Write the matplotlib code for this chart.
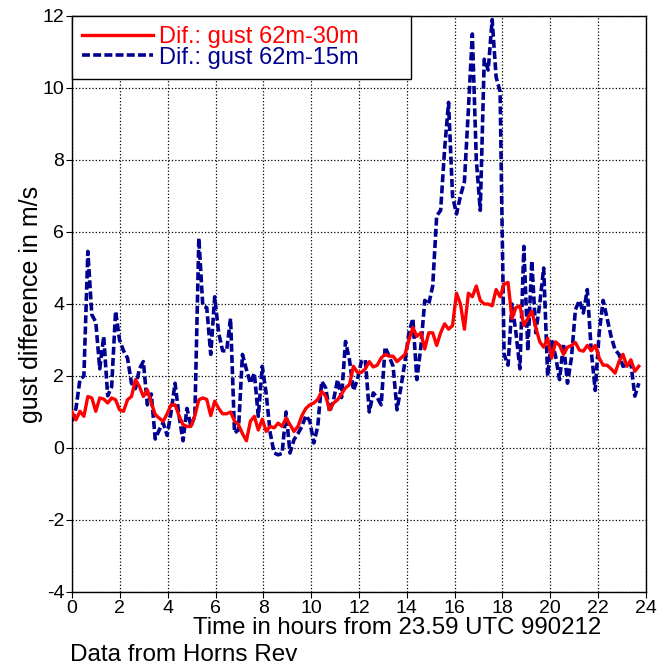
import numpy as np
import matplotlib
matplotlib.use("Agg")
import matplotlib.pyplot as plt

plt.rcParams["font.family"] = ["Liberation Sans", "DejaVu Sans"]
plt.rcParams["axes.unicode_minus"] = False

# gust differences, 10-minute samples starting at 0 h
red = [
    1.0, 0.78, 1.02, 0.88, 1.43, 1.39, 1.02, 1.39, 1.36, 1.25, 1.39, 1.34,
    1.06, 1.02, 1.34, 1.43, 1.9, 1.71, 1.43, 1.62, 1.25, 0.93, 0.83, 0.74,
    0.95, 1.2, 1.2, 0.9, 0.65, 0.6, 0.6, 0.9, 1.34, 1.39, 1.35, 0.9,
    1.3, 1.1, 0.95, 0.95, 1.0, 0.75, 0.65, 0.4, 0.2, 0.74, 0.88, 0.5,
    0.8, 0.46, 0.6, 0.56, 0.69, 0.6, 0.83, 0.65, 0.46, 0.6, 0.9, 1.1,
    1.2, 1.25, 1.35, 1.57, 1.44, 1.06, 1.25, 1.34, 1.5, 1.67, 1.76, 2.27,
    2.1, 2.1, 2.2, 2.4, 2.25, 2.3, 2.5, 2.6, 2.55, 2.55, 2.4, 2.5,
    2.6, 3.0, 3.35, 3.1, 3.2, 2.75, 3.2, 3.2, 2.85, 3.2, 3.45, 3.3,
    3.4, 4.3, 4.0, 3.3, 4.3, 4.2, 4.5, 4.1, 4.0, 4.0, 3.95, 4.4,
    4.2, 4.55, 4.6, 3.6, 3.9, 3.95, 3.4, 3.6, 3.8, 3.35, 2.95, 2.8,
    3.05, 2.5, 2.95, 2.85, 2.6, 2.8, 2.85, 2.93, 2.72, 2.69, 2.85, 2.7,
    2.85, 2.5, 2.3, 2.3, 2.2, 2.08, 2.4, 2.6, 2.27, 2.45, 2.13, 2.27,
]
blue = [
    0.74, 1.1, 1.9, 2.0, 5.46, 3.7, 3.5, 2.2, 3.1, 1.45, 1.7, 3.8,
    3.0, 2.7, 2.5, 1.8, 1.65, 2.2, 2.4, 1.2, 1.5, 0.25, 0.5, 0.7,
    0.35, 1.0, 1.8, 0.9, 0.2, 1.1, 0.6, 0.9, 5.83, 3.94, 3.9, 2.6,
    4.2, 3.2, 2.7, 2.7, 3.6, 0.42, 0.5, 2.6, 2.18, 1.8, 2.08, 0.88,
    2.27, 1.5, 0.42, -0.14, -0.19, -0.15, 1.0, -0.14, 0.23, 0.4, 0.6, 0.9,
    0.75, 0.14, 0.6, 1.85, 1.67, 1.0, 1.34, 1.9, 1.4, 2.96, 2.45, 1.6,
    1.9, 2.4, 2.45, 1.0, 1.53, 1.4, 1.2, 2.8, 2.55, 2.27, 1.06, 1.7,
    2.4, 3.2, 3.6, 1.9, 2.8, 4.1, 4.0, 4.5, 6.45, 6.6, 8.3, 9.6,
    7.0, 6.5, 7.0, 7.4, 9.4, 11.5, 8.0, 6.6, 10.8, 10.5, 11.9, 10.3,
    9.9, 2.6, 2.3, 4.0, 3.2, 2.2, 5.6, 2.7, 5.2, 3.2, 4.0, 5.0,
    2.0, 3.0, 2.55, 1.9, 2.9, 1.8, 2.5, 3.84, 4.1, 3.75, 4.4, 2.7,
    1.6, 3.2, 4.1, 3.6, 3.1, 2.73, 2.6, 2.27, 2.3, 2.35, 1.44, 1.8,
]
t_end = 23.7  # last sample, hours
hours = np.linspace(0, t_end, len(red))

xticks = list(range(0, 25, 2))
yticks = list(range(-4, 13, 2))

W, H = 660, 670
fig = plt.figure(figsize=(W / 100, H / 100), dpi=100)
ax = fig.add_axes([72 / W, 1 - 592 / H, (646 - 72) / W, (592 - 16) / H])

ax.plot(hours, red, color="red", lw=2.4, label="Dif.: gust 62m-30m", zorder=3)
ax.plot(hours, blue, color="#000090", lw=2.6, ls=(0, (2.2, 0.9)),
        label="Dif.: gust 62m-15m", zorder=2)

ax.set_xlim(0, 24)
ax.set_ylim(-4, 12)
ax.set_xticks(xticks)
ax.set_yticks(yticks)
ax.tick_params(labelsize=14, length=4, width=0.8, pad=1.5)
ax.grid(True, color="black", ls=":", lw=0.9)
for s in ax.spines.values():
    s.set_linewidth(1.0)

ax.set_ylabel("gust difference in m/s", fontsize=18, labelpad=0)
fig.text(397 / W, 1 - 628 / H, "Time in hours from 23.59 UTC 990212",
         ha="center", va="center", fontsize=17.3)
fig.text(70 / W, 1 - 655 / H, "Data from Horns Rev",
         ha="left", va="center", fontsize=17.5)

leg = ax.legend(loc="upper left", bbox_to_anchor=(0, 1, (411 - 72) / 574, 0),
                mode="expand", borderaxespad=0,
                fancybox=False, edgecolor="black", framealpha=1,
                fontsize=17, labelcolor="linecolor", handlelength=3.0,
                handletextpad=0.25, labelspacing=-0.05, borderpad=0.42)
leg.get_frame().set_linewidth(1.0)

fig.savefig("out.png", dpi=100)
